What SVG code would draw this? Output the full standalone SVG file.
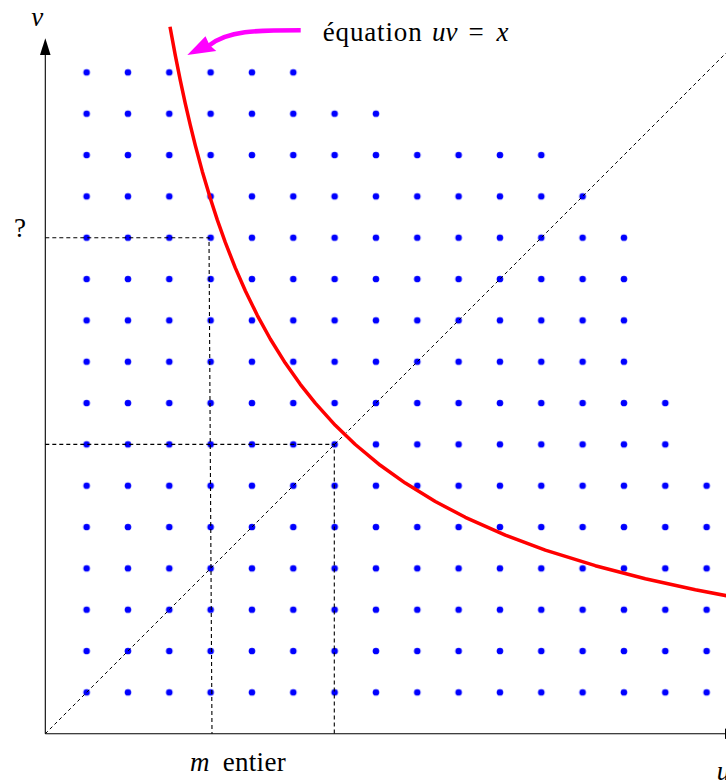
<svg xmlns="http://www.w3.org/2000/svg" width="726" height="783" viewBox="0 0 726 783">
<defs>
<style>
.ax{stroke:#000;stroke-width:1.1;fill:none}
.dash{stroke:#000;stroke-width:1.1;fill:none;stroke-dasharray:4 3}
.diag{stroke:#000;stroke-width:1;fill:none;stroke-dasharray:3.5 3}
text{font-family:'Liberation Serif','DejaVu Serif',serif;font-size:27px;fill:#000}
.i{font-style:italic}
</style>
<pattern id="dot" patternUnits="userSpaceOnUse" x="24.633" y="713.03" width="41.333" height="41.333">
<circle cx="20.667" cy="20.667" r="3.3" fill="#0000ff"/>
</pattern>
</defs>
<rect width="726" height="783" fill="#fff"/>
<g id="grid">
<path fill="url(#dot)" d="M65.97,51.75 H313.95 V93.08 H396.61 V134.41 H561.93 V175.74 H603.26 V217.07 H644.59 V382.39 H685.92 V465.05 H727.25 V713.03 H65.97 Z"/>
</g>
<g id="axes">
<line class="ax" x1="45.3" y1="733.7" x2="45.3" y2="52"/>
<polygon points="45.3,38.3 40,55 50.6,55" fill="#000"/>
<line class="ax" x1="45.3" y1="733.7" x2="730" y2="733.7"/>
<polygon points="742,733.7 725,728.4 725,739" fill="#000"/>
</g>
<g id="connectors">
<path class="dash" d="M45.3,237.7 H209 L212,733.7"/>
<path class="dash" d="M45.3,444.4 H334.3 V733.7"/>
<line class="diag" x1="45.3" y1="733.7" x2="745" y2="34"/>
</g>
<g id="curve">
<path fill="none" stroke="#ff0000" stroke-width="3.5" stroke-linejoin="round" d="M170.0,26.7 L175.3,55.4 L180.3,80.4 L185.3,103.7 L190.3,125.2 L195.3,145.4 L202.3,171.4 L210.3,198.3 L217.3,219.9 L225.3,242.4 L235.3,267.9 L245.3,290.7 L257.3,315.3 L270.3,339.0 L285.3,363.1 L300.3,384.3 L315.3,403.2 L335.3,425.3 L355.3,444.5 L380.3,465.3 L405.3,483.1 L435.3,501.5 L465.3,517.3 L505.3,535.1 L545.3,550.1 L595.3,565.7 L645.3,578.7 L695.3,589.7 L735.3,597.4"/>
</g>
<g id="annotation">
<path fill="none" stroke="#ff00ff" stroke-width="4.6" d="M300.7,30.3 C255,30.3 228,30.5 209,45.5"/>
<path fill="#ff00ff" d="M187.3,55 L205.5,36.3 L209.5,45 L216.3,51 Z"/>
<text y="40.7"><tspan x="322.7" textLength="99" lengthAdjust="spacing">équation</tspan><tspan class="i" x="432">uv</tspan><tspan x="468.5">=</tspan><tspan class="i" x="496.5">x</tspan></text>
</g>
<g id="labels">
<text class="i" x="37.2" y="26" text-anchor="middle">v</text>
<text x="20" y="237.3" text-anchor="middle">?</text>
<text y="770.7"><tspan class="i" x="190">m</tspan><tspan x="222.7" textLength="63" lengthAdjust="spacing">entier</tspan></text>
<text class="i" x="716.7" y="780">u</text>
</g>
</svg>
